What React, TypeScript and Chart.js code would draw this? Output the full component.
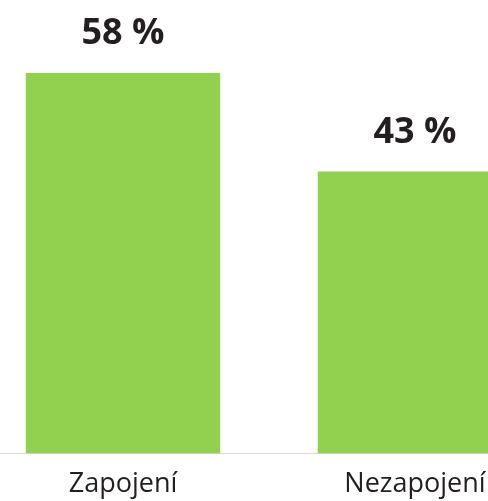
import React, { useEffect, useRef } from "react";
import { Chart, registerables } from "chart.js";

Chart.register(...registerables);

const categories = ["Zapojení", "Nezapojení"];
const values = [58, 43];
const valueLabels = ["58 %", "43 %"];

const valueLabelPlugin = {
  id: "valueLabels",
  afterDatasetsDraw(chart: any) {
    const ctx = chart.ctx;
    const meta = chart.getDatasetMeta(0);
    ctx.save();
    ctx.font = "bold 36px 'Open Sans'";
    ctx.fillStyle = "#231f20";
    ctx.textAlign = "center";
    ctx.textBaseline = "alphabetic";
    meta.data.forEach((bar: any, i: number) => {
      ctx.fillText(valueLabels[i], bar.x, bar.y - 29);
    });
    ctx.restore();
  },
};

export default function App() {
  const ref = useRef<HTMLCanvasElement>(null);
  useEffect(() => {
    if (!ref.current) return;
    const chart = new Chart(ref.current, {
      type: "bar",
      data: {
        labels: categories,
        datasets: [
          {
            data: values,
            backgroundColor: "#92d050",
            categoryPercentage: 1,
            barPercentage: 0.666,
          },
        ],
      },
      options: {
        animation: false,
        responsive: false,
        maintainAspectRatio: false,
        layout: { padding: { top: 60, left: 0, right: 0, bottom: 0 } },
        plugins: {
          legend: { display: false },
          tooltip: { enabled: false },
        },
        scales: {
          x: {
            grid: { display: false, drawTicks: false },
            border: { display: true, color: "#d9d9d9", width: 1 },
            ticks: {
              color: "#231f20",
              font: { family: "'Open Sans'", size: 27 },
              padding: 15,
              maxRotation: 0,
              autoSkip: false,
            },
          },
          y: {
            display: false,
            min: 0,
            max: 60,
          },
        },
      },
      plugins: [valueLabelPlugin],
    });
    return () => chart.destroy();
  }, []);
  return (
    <div
      style={{
        position: "fixed",
        left: 0,
        top: 0,
        width: 488,
        height: 501,
        overflow: "hidden",
        background: "#ffffff",
      }}
    >
      <canvas
        ref={ref}
        width={584}
        height={516}
        style={{ position: "absolute", left: -23, top: 0, width: 584, height: 516 }}
      />
    </div>
  );
}
